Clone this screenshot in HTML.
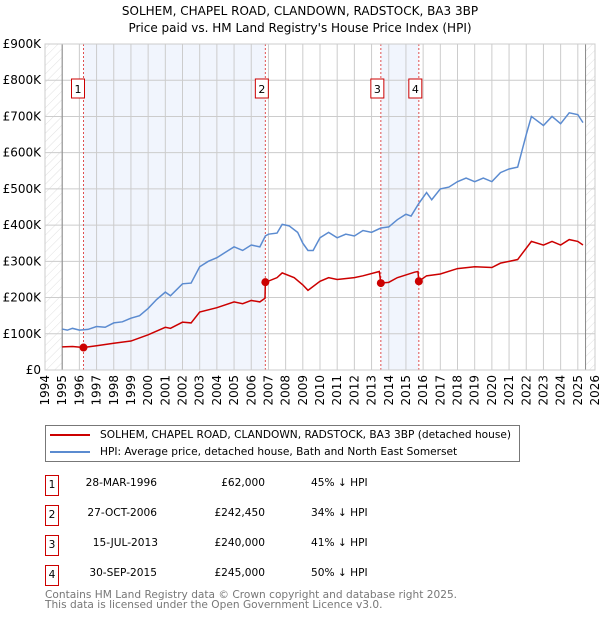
<!DOCTYPE html>
<html><head><meta charset="utf-8"><style>
body{margin:0;width:600px;height:620px;background:#fff;font-family:"DejaVu Sans","Liberation Sans",sans-serif;overflow:hidden}
svg text{font-family:"DejaVu Sans","Liberation Sans",sans-serif}
.r div{white-space:nowrap}
</style></head><body>
<svg id="c" width="600" height="620"></svg>
<script>
const hpiX=[1995,1995.3,1995.6,1996,1996.5,1997,1997.5,1998,1998.5,1999,1999.5,2000,2000.5,2001,2001.3,2002,2002.5,2003,2003.5,2004,2004.5,2005,2005.5,2006,2006.5,2006.82,2007,2007.5,2007.8,2008.2,2008.7,2009,2009.3,2009.6,2010,2010.5,2011,2011.5,2012,2012.5,2013,2013.54,2014,2014.5,2015,2015.3,2015.75,2016.2,2016.5,2017,2017.5,2018,2018.5,2019,2019.5,2020,2020.5,2021,2021.5,2022,2022.3,2023,2023.5,2024,2024.5,2025,2025.3];
const hpiY=[113,110,115,110,112,120,118,130,133,143,150,170,195,215,205,238,240,285,300,310,325,340,330,345,340,370,375,378,402,398,380,350,330,330,365,380,365,375,370,385,380,392,395,415,430,425,460,490,470,500,505,520,530,520,530,520,545,555,560,650,700,675,700,680,710,705,683];
const ppX=[1995,1995.6,1996.24,1997,1998,1999,2000,2001,2001.3,2002,2002.5,2003,2004,2005,2005.5,2006,2006.5,2006.8,2006.82,2007.5,2007.8,2008.5,2009,2009.3,2010,2010.5,2011,2012,2012.5,2013.45,2013.54,2014,2014.5,2015.5,2015.7,2015.75,2016.2,2017,2018,2019,2020,2020.5,2021,2021.5,2022.3,2023,2023.5,2024,2024.5,2025,2025.3];
const ppY=[64,65,62,67,74,80,97,118,115,132,130,160,172,188,183,192,188,198,242,255,268,255,235,220,245,255,250,255,260,272,240,242,255,270,272,245,260,265,280,285,283,295,300,305,355,345,355,345,360,355,345];
const saleX=[1996.24,2006.82,2013.54,2015.75];
const saleY=[62,242.45,240,245];
const saleLabels=["1","2","3","4"];
const yTicks=[0,100,200,300,400,500,600,700,800,900];
const yTickLabels=["£0","£100K","£200K","£300K","£400K","£500K","£600K","£700K","£800K","£900K"];
const xYears=[1994,1995,1996,1997,1998,1999,2000,2001,2002,2003,2004,2005,2006,2007,2008,2009,2010,2011,2012,2013,2014,2015,2016,2017,2018,2019,2020,2021,2022,2023,2024,2025,2026];

const L=45,R=595,T=44,B=370;
const sx=v=>L+(v-1994)/32*(R-L);
const sy=v=>B-v/900*(B-T);
const NS="http://www.w3.org/2000/svg";
const svg=document.getElementById('c');
function mk(tag,at,parent,txt){const e=document.createElementNS(NS,tag);for(const k in at)e.setAttribute(k,at[k]);if(txt!==undefined)e.textContent=txt;(parent||svg).appendChild(e);return e;}
const defs=mk('defs',{});
const pat=mk('pattern',{id:'h',width:6,height:6,patternUnits:'userSpaceOnUse',patternTransform:'rotate(45)'},defs);
mk('line',{x1:0,y1:0,x2:0,y2:6,stroke:'#d8d8d8','stroke-width':0.8},pat);
let t=mk('text',{x:300,y:15,'text-anchor':'middle','font-size':12,fill:'#000'},svg,'SOLHEM, CHAPEL ROAD, CLANDOWN, RADSTOCK, BA3 3BP');

t=mk('text',{x:300,y:32,'text-anchor':'middle','font-size':12,fill:'#000'},svg,"Price paid vs. HM Land Registry's House Price Index (HPI)");

let r=mk('rect',{x:sx(saleX[0]),y:T,width:sx(saleX[1])-sx(saleX[0]),height:B-T,fill:'#eef3fc',opacity:0.8});

r=mk('rect',{x:sx(saleX[2]),y:T,width:sx(saleX[3])-sx(saleX[2]),height:B-T,fill:'#eef3fc',opacity:0.8});

r=mk('rect',{x:L,y:T,width:sx(1995)-L,height:B-T,fill:'url(#h)'});

r=mk('rect',{x:sx(2025.45),y:T,width:R-sx(2025.45),height:B-T,fill:'url(#h)'});

yTicks.forEach((v,i)=>{
  const l=mk('line',{x1:L,x2:R,y1:sy(v),y2:sy(v),stroke:'#ccc','stroke-width':1});
  
  const tx=mk('text',{x:L-4,y:sy(v)+4,'text-anchor':'end','font-size':12,fill:'#000'},svg,yTickLabels[i]);
  
});
xYears.forEach(y=>{
  const l=mk('line',{x1:sx(y),x2:sx(y),y1:T,y2:B,stroke:'#ccc','stroke-width':1});
  
  const tx=mk('text',{x:0,y:0,'text-anchor':'end','font-size':12,fill:'#000',transform:`translate(${sx(y)+4},${B+5}) rotate(-90)`},svg,String(y));
  
});
let ax=mk('line',{x1:sx(1995),x2:sx(1995),y1:T,y2:B,stroke:'#888'});

ax=mk('line',{x1:sx(2025.45),x2:sx(2025.45),y1:T,y2:B,stroke:'#888'});

saleX.forEach(x=>{const l=mk('line',{x1:sx(x),x2:sx(x),y1:T,y2:B,stroke:'#e05050','stroke-dasharray':'2,2','stroke-width':1});
});
let p=mk('polyline',{points:hpiX.map((x,i)=>sx(x)+','+sy(hpiY[i])).join(' '),fill:'none',stroke:'#5b8bd0','stroke-width':1.5});

p=mk('polyline',{points:ppX.map((x,i)=>sx(x)+','+sy(ppY[i])).join(' '),fill:'none',stroke:'#cc0000','stroke-width':1.5});

const boxOff=[-12,-10,-10,-10];
saleX.forEach((x,i)=>{
  const c=mk('circle',{cx:sx(x),cy:sy(saleY[i]),r:4,fill:'#cc0000'});
  
  const xx=sx(x)+boxOff[i];
  const g=mk('g',{});
  
  mk('rect',{x:xx,y:79,width:13,height:19,fill:'#fff',stroke:'#cc0000'},g);
  mk('text',{x:xx+6.5,y:93,'text-anchor':'middle','font-size':11,fill:'#000'},g,saleLabels[i]);
});
let fr=mk('rect',{x:L,y:T,width:R-L,height:B-T,fill:'none',stroke:'#ccc'});

</script>
<div style="position:absolute;left:45px;top:425px;width:475px;height:37px;border:1px solid #777;box-sizing:border-box;font-size:10.6px">
 <div style="position:absolute;left:4px;top:3px;white-space:nowrap"><span style="display:inline-block;width:40px;height:2px;background:#cc0000;vertical-align:middle;margin-right:10px"></span>SOLHEM, CHAPEL ROAD, CLANDOWN, RADSTOCK, BA3 3BP (detached house)</div>
 <div style="position:absolute;left:4px;top:20px;white-space:nowrap"><span style="display:inline-block;width:40px;height:2px;background:#5b8bd0;vertical-align:middle;margin-right:10px"></span>HPI: Average price, detached house, Bath and North East Somerset</div>
</div>
<div class="r" style="position:absolute;left:0;top:0;font-size:10.6px">
 <div>
  <div style="position:absolute;left:45px;top:475px;width:12px;height:19px;border:1px solid #cc0000;text-align:center;line-height:19px">1</div>
  <div style="position:absolute;left:60px;top:477px;width:97px;text-align:right">28-MAR-1996</div>
  <div style="position:absolute;left:180px;top:477px;width:85px;text-align:right">£62,000</div>
  <div style="position:absolute;left:311px;top:477px">45% ↓ HPI</div></div>
 <div>
  <div style="position:absolute;left:45px;top:505px;width:12px;height:19px;border:1px solid #cc0000;text-align:center;line-height:19px">2</div>
  <div style="position:absolute;left:60px;top:507px;width:97px;text-align:right">27-OCT-2006</div>
  <div style="position:absolute;left:180px;top:507px;width:85px;text-align:right">£242,450</div>
  <div style="position:absolute;left:311px;top:507px">34% ↓ HPI</div></div>
 <div>
  <div style="position:absolute;left:45px;top:535px;width:12px;height:19px;border:1px solid #cc0000;text-align:center;line-height:19px">3</div>
  <div style="position:absolute;left:60px;top:537px;width:98px;text-align:right">15-JUL-2013</div>
  <div style="position:absolute;left:180px;top:537px;width:85px;text-align:right">£240,000</div>
  <div style="position:absolute;left:311px;top:537px">41% ↓ HPI</div></div>
 <div>
  <div style="position:absolute;left:45px;top:565px;width:12px;height:19px;border:1px solid #cc0000;text-align:center;line-height:19px">4</div>
  <div style="position:absolute;left:60px;top:567px;width:97px;text-align:right">30-SEP-2015</div>
  <div style="position:absolute;left:180px;top:567px;width:85px;text-align:right">£245,000</div>
  <div style="position:absolute;left:311px;top:567px">50% ↓ HPI</div></div>
</div>
<div style="position:absolute;left:45px;top:590px;font-size:10.6px;color:#777;line-height:10px;white-space:nowrap">Contains HM Land Registry data © Crown copyright and database right 2025.<br>This data is licensed under the Open Government Licence v3.0.</div>
</body></html>
